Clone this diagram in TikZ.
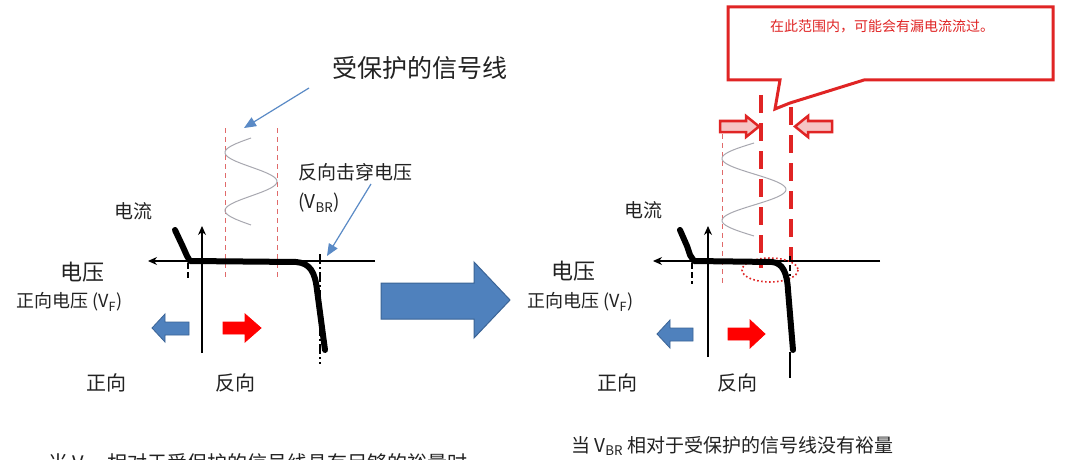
\documentclass[tikz,border=0pt]{standalone}
\usepackage{fontspec}
\setmainfont{Noto Sans CJK SC}
\usetikzlibrary{arrows.meta}
\definecolor{ablue}{HTML}{4F81BD}
\definecolor{ablueD}{HTML}{3B6496}
\definecolor{pblue}{HTML}{5A8AC6}
\definecolor{dred}{HTML}{E02424}
\definecolor{lred}{HTML}{E06A6A}
\definecolor{pinkf}{HTML}{F6C4C4}
\definecolor{txt}{HTML}{222222}
\definecolor{sine}{HTML}{A8A8B0}
\begin{document}
\begin{tikzpicture}[x=1pt,y=-1pt,
  lbl/.style={inner sep=0pt, text=txt},
  fA/.style={font=\fontsize{25}{28}\selectfont},
  fB/.style={font=\fontsize{19}{22}\selectfont},
  fC/.style={font=\fontsize{22}{25}\selectfont},
  fD/.style={font=\fontsize{18}{21}\selectfont},
  fE/.style={font=\fontsize{20}{23}\selectfont},
  fF/.style={font=\fontsize{14}{16}\selectfont},
  axisline/.style={line width=1.3pt, -{Stealth[length=9pt,width=8pt]}},
  ivcurve/.style={line width=6pt, line join=round, line cap=round},
  blackdash/.style={line width=2pt, dash pattern=on 6pt off 3pt},
  thinred/.style={lred, line width=1pt, dash pattern=on 5pt off 4pt},
  thickred/.style={dred, line width=4.5pt, dash pattern=on 18pt off 10pt},
  pointer/.style={pblue, line width=1.2pt, -{Triangle[length=12pt,width=10pt]}},
  bluearr/.style={fill=ablue, draw=ablueD, line width=0.8pt},
  redarr/.style={fill=red, draw=red, line width=0.8pt},
  hollowarr/.style={fill=pinkf, draw=dred, line width=2.5pt, line join=miter},
  sinewave/.style={sine, line width=1pt}
]
\useasboundingbox (0,0) rectangle (1080,460);
\clip (0,0) rectangle (1080,460);
\fill[white] (0,0) rectangle (1080,460);

% ================= LEFT DIAGRAM =================
\node[lbl,fA] (title) at (420,68) {受保护的信号线};
\coordinate (tptA) at (309,88);
\coordinate (tptB) at (244,128);
\draw[pointer] (tptA) -- (tptB);

% red thin dashed lines
\coordinate (lr1t) at (225,128); \coordinate (lr1b) at (225,280);
\coordinate (lr2t) at (277,128); \coordinate (lr2b) at (277,280);
\draw[thinred] (lr1t) -- (lr1b);
\draw[thinred] (lr2t) -- (lr2b);

% sine wave
\draw[sinewave] plot[domain=0:1.5, samples=80, smooth] ({251-26*sin(360*\x)}, {138+58*\x});

% axes
\coordinate (lhR) at (375,261); \coordinate (lhL) at (148,261);
\coordinate (lvB) at (202,353); \coordinate (lvT) at (202,226);
\draw[axisline] (lhR) -- (lhL);
\draw[axisline] (lvB) -- (lvT);

% IV curve
\draw[ivcurve] (175,230) -- (183,247) -- (187,256) -- (190,261) -- (296,262)
  .. controls (310,263) and (315,272) .. (317,290) -- (325,350);
\draw[blackdash] (188,263) -- (188,279);
\draw[line width=2pt, dash pattern=on 10pt off 3pt on 2pt off 3pt] (320,254) -- (320,364);

% breakdown label
\node[lbl,fB,anchor=west] (vbrtxt) at (298,172) {反向击穿电压};
\node[lbl,fB,anchor=west] (vbrsym) at (298,203) {(V\textsubscript{BR})};
\coordinate (vptA) at (371,184);
\coordinate (vptB) at (327,256);
\draw[pointer] (vptA) -- (vptB);

\node[lbl,fB] (curL) at (133,211) {电流};
\node[lbl,fC] (voltL) at (82,272) {电压};
\node[lbl,fD,anchor=west] (vfL) at (16,302) {正向电压 (V\textsubscript{F})};
\node[lbl,fE] (fwdL) at (106,383) {正向};
\node[lbl,fE] (revL) at (235,383) {反向};

% small direction arrows
\draw[bluearr] (152,328) -- (165,314) -- (165,322) -- (189,322) -- (189,335) -- (165,335) -- (165,342) -- cycle;
\draw[redarr] (261,328) -- (245,314) -- (245,322) -- (223,322) -- (223,334) -- (245,334) -- (245,342) -- cycle;

% bottom-left caption (cut by the lower edge, as in the reference)
\node[lbl,fE,anchor=west] (capL) at (48,464) {当 V\textsubscript{BR} 相对于受保护的信号线具有足够的裕量时};

% ================= BIG ARROW =================
\draw[fill=ablue, draw=ablueD, line width=1pt]
  (381,283) -- (474,283) -- (474,262) -- (510,300) -- (474,338) -- (474,319) -- (381,319) -- cycle;

% ================= RIGHT DIAGRAM =================
% callout
\draw[fill=white, draw=dred, line width=3pt, line join=miter]
  (728,7) -- (1053,7) -- (1053,80) -- (864,80) -- (790,103) -- (775,109) -- (780,80) -- (728,80) -- cycle;
\node[lbl,fF,text=dred] (callout) at (882,26) {在此范围内，可能会有漏电流流过。};

% red thin dashed
\coordinate (rr1t) at (722,134); \coordinate (rr1b) at (722,283);
\draw[thinred] (rr1t) -- (rr1b);

% sine
\draw[sinewave] plot[domain=0:1.5, samples=80, smooth] ({754-32*sin(360*\x)}, {143+62*\x});

% thick red dashed
\coordinate (tk1t) at (761,95); \coordinate (tk1b) at (761,268);
\coordinate (tk2t) at (791,107); \coordinate (tk2b) at (791,262);
\draw[thickred] (tk1t) -- (tk1b);
\draw[thickred] (tk2t) -- (tk2b);

% hollow arrows
\draw[hollowarr] (720,121) -- (746,121) -- (746,116) -- (759,126.5) -- (746,137) -- (746,132) -- (720,132) -- cycle;
\draw[hollowarr] (832,121) -- (808,121) -- (808,116) -- (795,126.5) -- (808,137) -- (808,132) -- (832,132) -- cycle;

% axes
\coordinate (rhR) at (880,261); \coordinate (rhL) at (653,261);
\coordinate (rvB) at (708,357); \coordinate (rvT) at (708,226);
\draw[axisline] (rhR) -- (rhL);
\draw[axisline] (rvB) -- (rvT);

% dotted ellipse
\draw[dred, line width=1.6pt, dash pattern=on 1.6pt off 2.4pt] (770,270) ellipse[x radius=28, y radius=12];

% IV curve
\draw[ivcurve] (680,230) -- (687,246) -- (690,255) -- (694,261) -- (772,262)
  .. controls (783,263) and (787,273) .. (788,290) -- (793,350);
\draw[line width=1.6pt] (790,352) -- (790,378);
\draw[blackdash] (692,263) -- (692,284);
\draw[line width=2pt, dash pattern=on 6pt off 3pt] (790,256) -- (790,276);

\node[lbl,fB] (curR) at (643,210) {电流};
\node[lbl,fC] (voltR) at (573,271) {电压};
\node[lbl,fD,anchor=west] (vfR) at (527,302) {正向电压 (V\textsubscript{F})};
\node[lbl,fE] (fwdR) at (617,383) {正向};
\node[lbl,fE] (revR) at (737,383) {反向};

\draw[bluearr] (657,334) -- (670,320) -- (670,328) -- (693,328) -- (693,341) -- (670,341) -- (670,348) -- cycle;
\draw[redarr] (765,334) -- (750,320) -- (750,328) -- (728,328) -- (728,340) -- (750,340) -- (750,348) -- cycle;

\node[lbl,fB,anchor=west] (capR) at (571,446) {当 V\textsubscript{BR} 相对于受保护的信号线没有裕量};
\end{tikzpicture}
\end{document}
